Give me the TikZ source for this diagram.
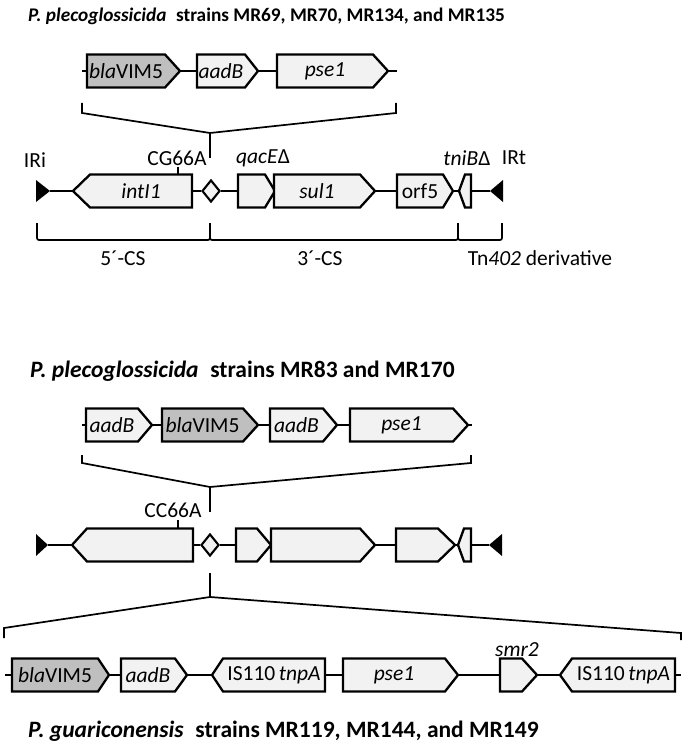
\documentclass[tikz,border=0pt]{standalone}
\usepackage{fontspec}
\setmainfont{Carlito}
\usetikzlibrary{shapes.geometric}

\definecolor{genelight}{HTML}{F2F2F2}
\definecolor{genegrey}{HTML}{BFBFBF}

\def\gh{16.5}
% gene pointing right: name, y, x left, x right, tip length, fill, label
\newcommand\generight[7]{%
  \draw[gene,fill=#6] (#3,#2-\gh) -- (#4-#5,#2-\gh) -- (#4,#2) -- (#4-#5,#2+\gh) -- (#3,#2+\gh) -- cycle;
  \node[genelbl] (#1) at ({(#3+#4-#5)/2},#2) {#7};
  \coordinate (#1-w) at (#3,#2);
  \coordinate (#1-e) at (#4,#2);
}
% gene pointing left
\newcommand\geneleft[7]{%
  \draw[gene,fill=#6] (#3,#2) -- (#3+#5,#2-\gh) -- (#4,#2-\gh) -- (#4,#2+\gh) -- (#3+#5,#2+\gh) -- cycle;
  \node[genelbl] (#1) at ({(#3+#5+#4)/2},#2) {#7};
  \coordinate (#1-w) at (#3,#2);
  \coordinate (#1-e) at (#4,#2);
}

\begin{document}
\begin{tikzpicture}[x=1pt, y=-1pt,
  gene/.style={draw, line width=2.3pt, line join=miter},
  genelbl/.style={inner sep=0pt, font=\fontsize{21.5}{23}\selectfont},
  bb/.style={line width=2.1pt},
  brk/.style={line width=1.7pt},
  lbl/.style={inner sep=0pt, font=\fontsize{21.5}{23}\selectfont},
  ttl/.style={inner sep=0pt, anchor=west, font=\fontsize{23.5}{25}\selectfont\bfseries},
  att/.style={draw, diamond, line width=2.1pt, fill=genelight, inner sep=0pt, minimum width=18pt, minimum height=22pt}]

\useasboundingbox (0,0) rectangle (685,749);

% Titles
\node[ttl, font=\fontsize{19.3}{21}\selectfont\bfseries] (title1) at (28,16) {\textit{P. plecoglossicida}\enspace strains MR69, MR70, MR134, and MR135};
\node[ttl] (title2) at (30,371) {\textit{P. plecoglossicida}\enspace strains MR83 and MR170};
\node[ttl] (title3) at (28,731) {\textit{P. guariconensis}\enspace strains MR119, MR144, and MR149};

% Cassette array 1
\coordinate (r1s) at (82,71);
\coordinate (r1e) at (397,71);
\generight{bla1}{71}{87}{180}{15}{genegrey}{\textit{bla}VIM5}
\generight{aad1}{71}{197}{258}{13}{genelight}{\textit{aadB}}
\generight{pse1}{71}{277}{388}{15}{genelight}{\textit{pse1}}
\draw[bb] (r1s) -- (bla1-w);
\draw[bb] (bla1-e) -- (aad1-w);
\draw[bb] (aad1-e) -- (pse1-w);
\draw[bb] (pse1-e) -- (r1e);

\coordinate (f1) at (210,133);
\coordinate (f1d) at (210,158);
\draw[brk] (82,103) -- (82,113) -- (f1) -- (396,113) -- (396,103);
\draw[brk] (f1) -- (f1d);

% Integron 1
\fill (36,180) -- (50,191) -- (36,202) -- cycle;
\coordinate (iri1) at (50,191);
\geneleft{int1}{191}{73}{192}{17}{genelight}{\textit{intI1}}
\node[att] (att1) at (211,191) {};
\generight{qac1}{191}{238}{275}{10}{genelight}{}
\generight{sul1}{191}{274}{375}{15}{genelight}{\textit{sul1}}
\generight{orf1}{191}{397}{453}{10}{genelight}{orf5}
\geneleft{tni1}{191}{459}{471}{6}{genelight}{}
\fill (503,180) -- (490,191) -- (503,202) -- cycle;
\coordinate (irt1) at (490,191);
\draw[bb] (iri1) -- (int1-w);
\draw[bb] (int1-e) -- (att1.west);
\draw[bb] (att1.east) -- (qac1-w);
\draw[bb] (sul1-e) -- (orf1-w);
\draw[bb] (orf1-e) -- (tni1-w);
\draw[bb] (tni1-e) -- (irt1);

\node[lbl] (iri1l) at (35,160) {IRi};
\node[lbl] (cg) at (177,158) {CG66A};
\draw[brk] (178,167) -- (178,174.5);
\node[lbl] (qac1l) at (263,158) {\textit{qacE}Δ};
\node[lbl] (tni1l) at (467,158) {\textit{tniB}Δ};
\node[lbl] (irt1l) at (514,158) {IRt};

\draw[brk, rounded corners=2pt] (37,223) -- (37,240) -- (210,240) -- (210,223);
\draw[brk, rounded corners=2pt] (210,223) -- (210,240) -- (458,240) -- (458,223);
\draw[brk, rounded corners=2pt] (458,223) -- (458,240) -- (502,240) -- (502,223);
\node[lbl] (cs5) at (123,258) {5´-CS};
\node[lbl] (cs3) at (320,258) {3´-CS};
\node[lbl] (tn) at (540,258) {Tn\textit{402} derivative};

% Cassette array 2
\coordinate (r3s) at (82,425);
\coordinate (r3e) at (472,425);
\generight{aad2a}{425}{86}{152}{14}{genelight}{\textit{aadB}}
\generight{bla2}{425}{162}{258}{15}{genegrey}{\textit{bla}VIM5}
\generight{aad2b}{425}{270}{337}{14}{genelight}{\textit{aadB}}
\generight{pse2}{425}{350}{468}{15}{genelight}{\textit{pse1}}
\draw[bb] (r3s) -- (aad2a-w);
\draw[bb] (aad2a-e) -- (bla2-w);
\draw[bb] (bla2-e) -- (aad2b-w);
\draw[bb] (aad2b-e) -- (pse2-w);
\draw[bb] (pse2-e) -- (r3e);

\coordinate (f2) at (210,487);
\coordinate (f2d) at (210,512);
\draw[brk] (82,455) -- (82,463) -- (f2) -- (471,463) -- (471,455);
\draw[brk] (f2) -- (f2d);

% Integron 2
\fill (36,534) -- (48,545) -- (36,556) -- cycle;
\coordinate (iri2) at (48,545);
\geneleft{int2}{545}{72}{193}{15}{genelight}{}
\node[att] (att2) at (210,545) {};
\generight{qac2}{545}{236}{271}{14}{genelight}{}
\generight{sul2}{545}{271}{375}{15}{genelight}{}
\generight{orf2}{545}{396}{455}{17}{genelight}{}
\geneleft{tni2}{545}{458}{471}{6}{genelight}{}
\fill (502,534) -- (489,545) -- (502,556) -- cycle;
\coordinate (irt2) at (489,545);
\draw[bb] (iri2) -- (int2-w);
\draw[bb] (int2-e) -- (att2.west);
\draw[bb] (att2.east) -- (qac2-w);
\draw[bb] (sul2-e) -- (orf2-w);
\draw[bb] (orf2-e) -- (tni2-w);
\draw[bb] (tni2-e) -- (irt2);

\node[lbl] (cc) at (173,510) {CC66A};
\draw[brk] (178,520) -- (178,528.5);

\coordinate (f3u) at (210,573);
\coordinate (f3) at (210,597);
\draw[brk] (f3u) -- (f3);
\draw[brk] (4,638) -- (4,628) -- (f3) -- (681,633) -- (681,640);

% Cassette array 3
\coordinate (r5s) at (5,675);
\coordinate (r5e) at (681,675);
\generight{bla3}{675}{12}{109}{11}{genegrey}{\textit{bla}VIM5}
\generight{aad3}{675}{121}{187}{12}{genelight}{\textit{aadB}}
\geneleft{tnp1}{675}{212}{325}{11}{genelight}{IS110\,\textit{tnpA}}
\generight{pse3}{675}{343}{458}{13}{genelight}{\textit{pse1}}
\generight{smr}{675}{500}{537}{15}{genelight}{}
\geneleft{tnp2}{675}{560}{675}{12}{genelight}{IS110\,\textit{tnpA}}
\draw[bb] (r5s) -- (bla3-w);
\draw[bb] (bla3-e) -- (aad3-w);
\draw[bb] (aad3-e) -- (tnp1-w);
\draw[bb] (tnp1-e) -- (pse3-w);
\draw[bb] (pse3-e) -- (smr-w);
\draw[bb] (smr-e) -- (tnp2-w);
\draw[bb] (tnp2-e) -- (r5e);
\node[lbl] (smrl) at (517,650) {\textit{smr2}};

\end{tikzpicture}
\end{document}
